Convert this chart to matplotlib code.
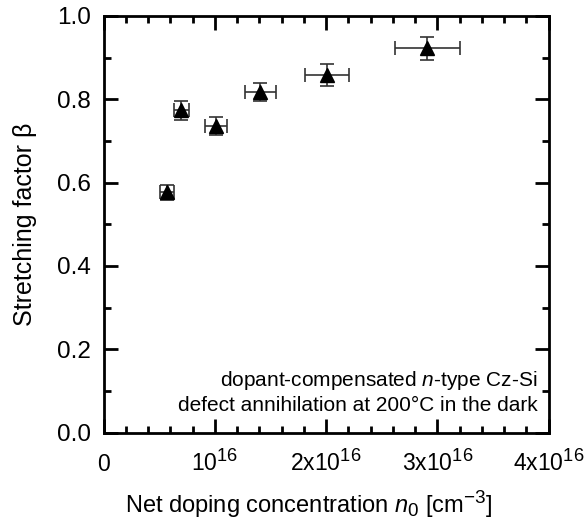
import numpy as np
import matplotlib
matplotlib.use("Agg")
import matplotlib.pyplot as plt
import matplotlib._mathtext as mathtext_internal
from matplotlib.ticker import MultipleLocator, FixedLocator, FixedFormatter

plt.rcParams['font.family'] = ['Liberation Sans', 'DejaVu Sans']
plt.rcParams['mathtext.fontset'] = 'custom'
plt.rcParams['mathtext.rm'] = 'Liberation Sans'
plt.rcParams['mathtext.it'] = 'Liberation Sans:italic'
# larger super/subscripts, like the original
mathtext_internal.SHRINK_FACTOR = 0.8

# data
n0 = [0.57e16, 0.70e16, 1.01e16, 1.41e16, 2.01e16, 2.91e16]
beta = [0.577, 0.774, 0.736, 0.818, 0.859, 0.922]
n0_err = [0.06e16, 0.07e16, 0.10e16, 0.14e16, 0.20e16, 0.29e16]
beta_err = [0.018, 0.023, 0.022, 0.022, 0.026, 0.028]

xticks = [0, 1e16, 2e16, 3e16, 4e16]
xticklabels = ['0', '10$^{16}$', '2x10$^{16}$', '3x10$^{16}$', '4x10$^{16}$']

fig = plt.figure(figsize=(5.87, 5.29), dpi=100)
ax = fig.add_axes([103.5/587, 1-432.6/529, 445/587, 416.6/529])

ax.errorbar(n0, beta, xerr=n0_err, yerr=beta_err, fmt='none', ecolor='#333333',
            elinewidth=1.2, capsize=5, capthick=1.2)
ax.plot(n0, beta, '^', color='black', markersize=10.5)

ax.set_xlim(0, 4e16)
ax.set_ylim(0, 1.0)
ax.xaxis.set_major_locator(FixedLocator(xticks))
ax.xaxis.set_major_formatter(FixedFormatter(xticklabels))
ax.xaxis.set_minor_locator(MultipleLocator(0.2e16))
ax.yaxis.set_major_locator(MultipleLocator(0.2))
ax.yaxis.set_minor_locator(MultipleLocator(0.1))
ax.yaxis.set_major_formatter(matplotlib.ticker.FormatStrFormatter('%.1f'))

ax.tick_params(which='both', direction='in', top=True, right=True, width=2)
ax.tick_params(which='major', length=10)
ax.tick_params(which='minor', length=5)
ax.tick_params(axis='y', labelsize=17.5, pad=9)
ax.tick_params(axis='x', labelsize=16.5, pad=28)
for lbl in ax.get_xticklabels():
    lbl.set_va('baseline')
for s in ax.spines.values():
    s.set_linewidth(2)

ax.set_xlabel('Net doping concentration $n_0$ [cm$^{-3}$]', fontsize=17)
ax.xaxis.label.set_va('baseline')
ax.xaxis.set_label_coords(0.462, -0.192)
ax.set_ylabel('Stretching factor β', fontsize=18)
ax.yaxis.set_label_coords(-0.15, 0.5)

ax.text(0.976, 0.112, 'dopant-compensated $n$-type Cz-Si', transform=ax.transAxes,
        ha='right', va='baseline', fontsize=15)
ax.text(0.976, 0.052, 'defect annihilation at 200°C in the dark', transform=ax.transAxes,
        ha='right', va='baseline', fontsize=15)

fig.savefig('out.png', dpi=100)
